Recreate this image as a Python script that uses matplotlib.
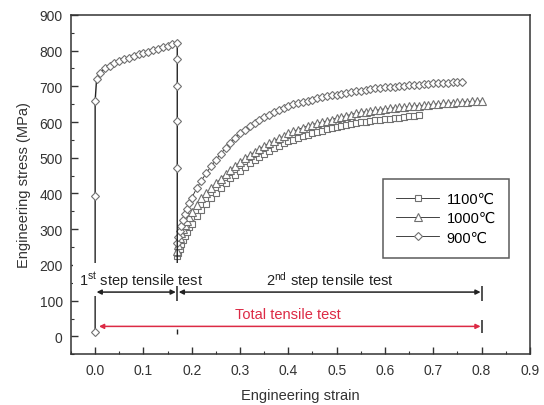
import matplotlib
matplotlib.use("Agg")
import matplotlib.pyplot as plt
from matplotlib.ticker import MultipleLocator

plt.rcParams["font.family"] = ["Liberation Sans", "DejaVu Sans"]
plt.rcParams["mathtext.default"] = "regular"

# ---- data -------------------------------------------------------------
# 1st step (900 C specimen): loading then unloading at strain 0.17
strain_1st = [0.0, 0.0, 0.0, 0.003, 0.010, 0.020, 0.030, 0.040, 0.050, 0.060,
              0.070, 0.080, 0.090, 0.100, 0.110, 0.120, 0.130, 0.140, 0.150,
              0.160, 0.170, 0.170, 0.170, 0.170, 0.170, 0.170]
stress_1st = [12, 392, 659, 720, 737, 750, 758, 765, 771, 776,
              780, 784, 789, 793, 797, 801, 805, 809, 813,
              817, 821, 776, 701, 603, 472, 190]

# 2nd step strain grid (shared by the three curves)
strain_2nd = [0.170, 0.172, 0.175, 0.178, 0.182, 0.186, 0.190, 0.195, 0.200,
              0.21, 0.22, 0.23, 0.24, 0.25, 0.26, 0.27, 0.28, 0.29, 0.30,
              0.31, 0.32, 0.33, 0.34, 0.35, 0.36, 0.37, 0.38, 0.39, 0.40,
              0.41, 0.42, 0.43, 0.44, 0.45, 0.46, 0.47, 0.48, 0.49, 0.50,
              0.51, 0.52, 0.53, 0.54, 0.55, 0.56, 0.57, 0.58, 0.59, 0.60,
              0.61, 0.62, 0.63, 0.64, 0.65, 0.66, 0.67, 0.68, 0.69, 0.70,
              0.71, 0.72, 0.73, 0.74, 0.75, 0.76, 0.77, 0.78, 0.79, 0.80]

stress_1100 = [225, 232, 245, 258, 270, 281, 292, 305, 315,
               337, 355, 371, 386, 400, 414, 429, 442, 453, 464,
               475, 485, 494, 503, 511, 519, 526, 533, 540, 546,
               551, 556, 560, 564, 568, 572, 576, 580, 583, 586,
               589, 592, 595, 597, 599, 601, 603, 605, 606, 608,
               609, 611, 612, 614, 616, 617, 619]

stress_1000 = [240, 255, 275, 288, 300, 312, 322, 335, 347,
               368, 386, 400, 414, 428, 441, 454, 466, 477, 488,
               498, 507, 516, 525, 533, 540, 547, 554, 560, 568,
               574, 579, 584, 589, 593, 597, 600, 603, 607, 611,
               614, 618, 621, 625, 627, 629, 631, 633, 635, 637,
               638, 640, 641, 642, 644, 645, 646, 647, 649, 650,
               651, 652, 653, 654, 655, 656, 657, 658, 658, 659]

stress_900 = [260, 278, 295, 310, 327, 343, 357, 373, 388,
              414, 436, 457, 476, 494, 511, 527, 542, 556, 568,
              578, 588, 597, 606, 614, 621, 627, 633, 639, 645,
              650, 654, 657, 660, 663, 666, 669, 672, 675, 677,
              679, 681, 684, 686, 688, 690, 692, 694, 696, 697,
              698, 699, 700, 702, 703, 704, 705, 706, 707, 708,
              709, 710, 710, 711, 711, 712]

labels = ["1100\u2103", "1000\u2103", "900\u2103"]
markers = ["s", "^", "D"]
marker_sizes = [5.0, 5.6, 4.3]

STEP1_END = 0.17
TOTAL_END = 0.80
RED = "#dc2a45"
DARK = "#222222"
MARK_EDGE = "#707070"

# ---- figure ------------------------------------------------------------
fig = plt.figure(figsize=(5.44, 4.06), dpi=100)
ax = fig.add_axes([0.1305, 0.125, 0.8435, 0.836])

series = [stress_1100, stress_1000, stress_900]
for stress, lab, mk, ms in zip(series, labels, markers, marker_sizes):
    ax.plot(strain_2nd[:len(stress)], stress, color=DARK, lw=0.6,
            marker=mk, ms=ms, mfc="white", mec=MARK_EDGE, mew=0.8,
            label=lab, zorder=2)

# first step drawn with the 900 C symbol; last unloading point has no marker
ax.plot(strain_1st, stress_1st, color=DARK, lw=1.0, marker="D", ms=4.3,
        mfc="white", mec=MARK_EDGE, mew=0.8,
        markevery=list(range(len(strain_1st) - 1)), zorder=2)

# ---- step annotations --------------------------------------------------
arrow_kw = dict(arrowstyle="<|-|>", color=DARK, lw=1.1, mutation_scale=7,
                shrinkA=0, shrinkB=0)
ax.annotate("", xy=(0.003, 124), xytext=(STEP1_END - 0.003, 124),
            arrowprops=arrow_kw, zorder=5)
ax.annotate("", xy=(STEP1_END + 0.003, 124), xytext=(TOTAL_END - 0.002, 124),
            arrowprops=arrow_kw, zorder=5)
red_kw = dict(arrow_kw, color=RED)
ax.annotate("", xy=(0.008, 28), xytext=(TOTAL_END - 0.002, 28),
            arrowprops=red_kw, zorder=5)

ax.vlines([STEP1_END, TOTAL_END], 100, 140, color=DARK, lw=1.1, zorder=5)
ax.vlines([TOTAL_END], 10, 46, color=DARK, lw=1.1, zorder=5)
ax.vlines([STEP1_END], 6, 20, color=DARK, lw=1.0, zorder=5)

ax.text(0.095, 160, "1$^{st}$ step tensile test", ha="center", va="center",
        fontsize=10.5, color=DARK, zorder=4,
        bbox=dict(facecolor="white", edgecolor="none", pad=4.5))
ax.text(0.485, 160, "2$^{nd}$ step tensile test", ha="center", va="center",
        fontsize=10.5, color=DARK, zorder=4)
ax.text(0.40, 64, "Total tensile test", ha="center", va="center",
        fontsize=10.5, color=RED, zorder=4)

# ---- axes styling ------------------------------------------------------
ax.set_xlim(-0.05, 0.9)
ax.set_ylim(-50, 900)
ax.xaxis.set_major_locator(MultipleLocator(0.1))
ax.xaxis.set_minor_locator(MultipleLocator(0.05))
ax.yaxis.set_major_locator(MultipleLocator(100))
ax.yaxis.set_minor_locator(MultipleLocator(50))
ax.set_xticks([0.0, 0.1, 0.2, 0.3, 0.4, 0.5, 0.6, 0.7, 0.8, 0.9])
ax.set_yticks([0, 100, 200, 300, 400, 500, 600, 700, 800, 900])
ax.tick_params(which="both", direction="in", top=False, right=False,
               colors="#333333", labelcolor="#333333", labelsize=10)
ax.tick_params(which="major", length=5, width=1.0, pad=6)
ax.tick_params(which="minor", length=2.5, width=0.8)
for sp in ax.spines.values():
    sp.set_linewidth(1.1)
    sp.set_color("#333333")

ax.set_xlabel("Engineering strain", fontsize=10.5, color="#333333", labelpad=8)
ax.set_ylabel("Engineering stress (MPa)", fontsize=10.5, color="#333333",
              labelpad=6)

leg = ax.legend(loc="upper left", bbox_to_anchor=(0.679, 0.516),
                borderaxespad=0, fontsize=10.5, frameon=True, fancybox=False,
                handlelength=3.0, handletextpad=0.5, labelspacing=0.35,
                borderpad=0.9)
leg.get_frame().set_edgecolor("#333333")
leg.get_frame().set_linewidth(1.1)

fig.savefig("out.png", dpi=100)
